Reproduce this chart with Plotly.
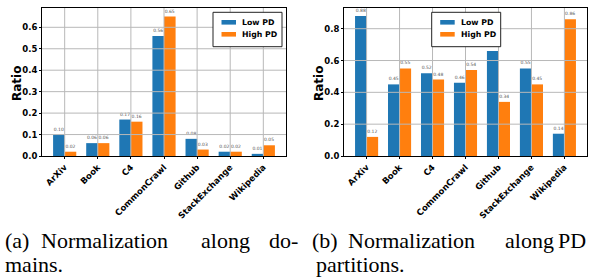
import plotly.graph_objects as go

categories = ["ArXiv", "Book", "C4", "CommonCrawl", "Github", "StackExchange", "Wikipedia"]
low_a = [0.10, 0.06, 0.17, 0.56, 0.08, 0.02, 0.01]
high_a = [0.02, 0.06, 0.16, 0.65, 0.03, 0.02, 0.05]
low_b = [0.88, 0.45, 0.52, 0.46, 0.66, 0.55, 0.14]
high_b = [0.12, 0.55, 0.48, 0.54, 0.34, 0.45, 0.86]
yticks_a = [0.0, 0.1, 0.2, 0.3, 0.4, 0.5, 0.6]
yticks_b = [0.0, 0.2, 0.4, 0.6, 0.8]
series_names = ["Low PD", "High PD"]
colors = ["#1f77b4", "#ff7f0e"]

W, H = 589, 280
def px(x):
    return x / W
def py(y):
    return 1 - y / H

fig = go.Figure()
panels = [
    ("x", "y", [low_a, high_a]),
    ("x2", "y2", [low_b, high_b]),
]
for xa, ya, vals in panels:
    for name, v, c in zip(series_names, vals, colors):
        fig.add_trace(go.Bar(
            x=categories, y=v, name=name, marker=dict(color=c, line=dict(width=0)),
            xaxis=xa, yaxis=ya, showlegend=False,
            text=[f"{t:.2f}" for t in v], textposition="outside",
            textfont=dict(size=4.5, color="#555555", family="DejaVu Sans"),
            cliponaxis=False, hoverinfo="skip",
        ))

tickfont = dict(family="DejaVu Sans", size=8.5, color="black", weight="bold")
common_x = dict(type="category", range=[-0.685, 6.685], tickangle=-45, showline=True,
                mirror=True, linecolor="black", linewidth=1, ticks="outside", ticklen=2,
                tickcolor="black", showgrid=False, tickfont=tickfont, automargin=False,
                zeroline=False)
common_y = dict(showline=True, mirror=True, linecolor="black", linewidth=1, ticks="outside",
                ticklen=2, tickcolor="black", showgrid=False, tickfont=tickfont,
                automargin=False, zeroline=False)

fig.update_layout(
    width=W, height=H, autosize=False,
    margin=dict(l=0, r=0, t=0, b=0),
    paper_bgcolor="white", plot_bgcolor="white",
    barmode="group", bargap=0.3, bargroupgap=0,
    xaxis=dict(domain=[px(42), px(286)], anchor="y", **common_x),
    yaxis=dict(domain=[py(156), py(8)], anchor="x", range=[0, 0.69],
               tickvals=yticks_a, ticktext=[f"{t:.1f}" for t in yticks_a], **common_y),
    xaxis2=dict(domain=[px(344), px(587)], anchor="y2", **common_x),
    yaxis2=dict(domain=[py(156), py(8)], anchor="x2", range=[0, 0.93],
                tickvals=yticks_b, ticktext=[f"{t:.1f}" for t in yticks_b], **common_y),
)

shapes = []
annotations = []
grid = dict(color="#b8b8b8", width=1)
for xr, yr, yt in [("x", "y", yticks_a), ("x2", "y2", yticks_b)]:
    for c in categories:
        shapes.append(dict(type="line", xref=xr, yref=yr + " domain", x0=c, x1=c, y0=0, y1=1,
                           line=grid, layer="above"))
    for t in yt[1:]:
        shapes.append(dict(type="line", xref=xr + " domain", yref=yr, x0=0, x1=1, y0=t, y1=t,
                           line=grid, layer="above"))

# manual legends
for bx in [213, 431.7]:
    shapes.append(dict(type="rect", xref="paper", yref="paper", x0=px(bx), x1=px(bx + 69),
                       y0=py(46.7), y1=py(12.3), line=dict(color="#222222", width=1),
                       fillcolor="white", layer="above"))
    for i, (name, c) in enumerate(zip(series_names, colors)):
        yc = 22.3 + 12 * i
        shapes.append(dict(type="rect", xref="paper", yref="paper", x0=px(bx + 8.5),
                           x1=px(bx + 23), y0=py(yc + 2.3), y1=py(yc - 2.3),
                           line=dict(width=0), fillcolor=c, layer="above"))
        annotations.append(dict(text=name, xref="paper", yref="paper", x=px(bx + 27),
                                y=py(yc), xanchor="left", yanchor="middle", align="left",
                                showarrow=False,
                                font=dict(family="DejaVu Sans", size=7.8, color="black",
                                          weight="bold")))

# y titles
for xc in [17, 319]:
    annotations.append(dict(text="Ratio", xref="paper", yref="paper", x=px(xc), y=py(84),
                            textangle=-90, showarrow=False, xanchor="center", yanchor="middle",
                            font=dict(family="DejaVu Sans", size=12, color="black",
                                      weight="bold")))

# captions
cap_font = dict(family="Liberation Serif", size=22, color="black")
y1c, y2c = 240, 264
caption_words = [
    ("(a)", 3, y1c, "left"), ("Normalization", 39, y1c, "left"), ("along", 199, y1c, "left"),
    ("do-", 300, y1c, "right"), ("mains.", 3, y2c, "left"),
    ("(b)", 310, y1c, "left"), ("Normalization", 346, y1c, "left"), ("along", 503, y1c, "left"),
    ("PD", 588, y1c, "right"), ("partitions.", 314, y2c, "left"),
]
for w, x, y, anc in caption_words:
    annotations.append(dict(text=w, xref="paper", yref="paper", x=px(x), y=py(y),
                            xanchor=anc, yanchor="middle", align=anc, showarrow=False,
                            font=cap_font))

fig.update_layout(shapes=shapes, annotations=annotations)
fig.write_html("out.html", config={"displayModeBar": False},
               post_script="document.body.style.margin='0';document.body.style.overflow='hidden';")
